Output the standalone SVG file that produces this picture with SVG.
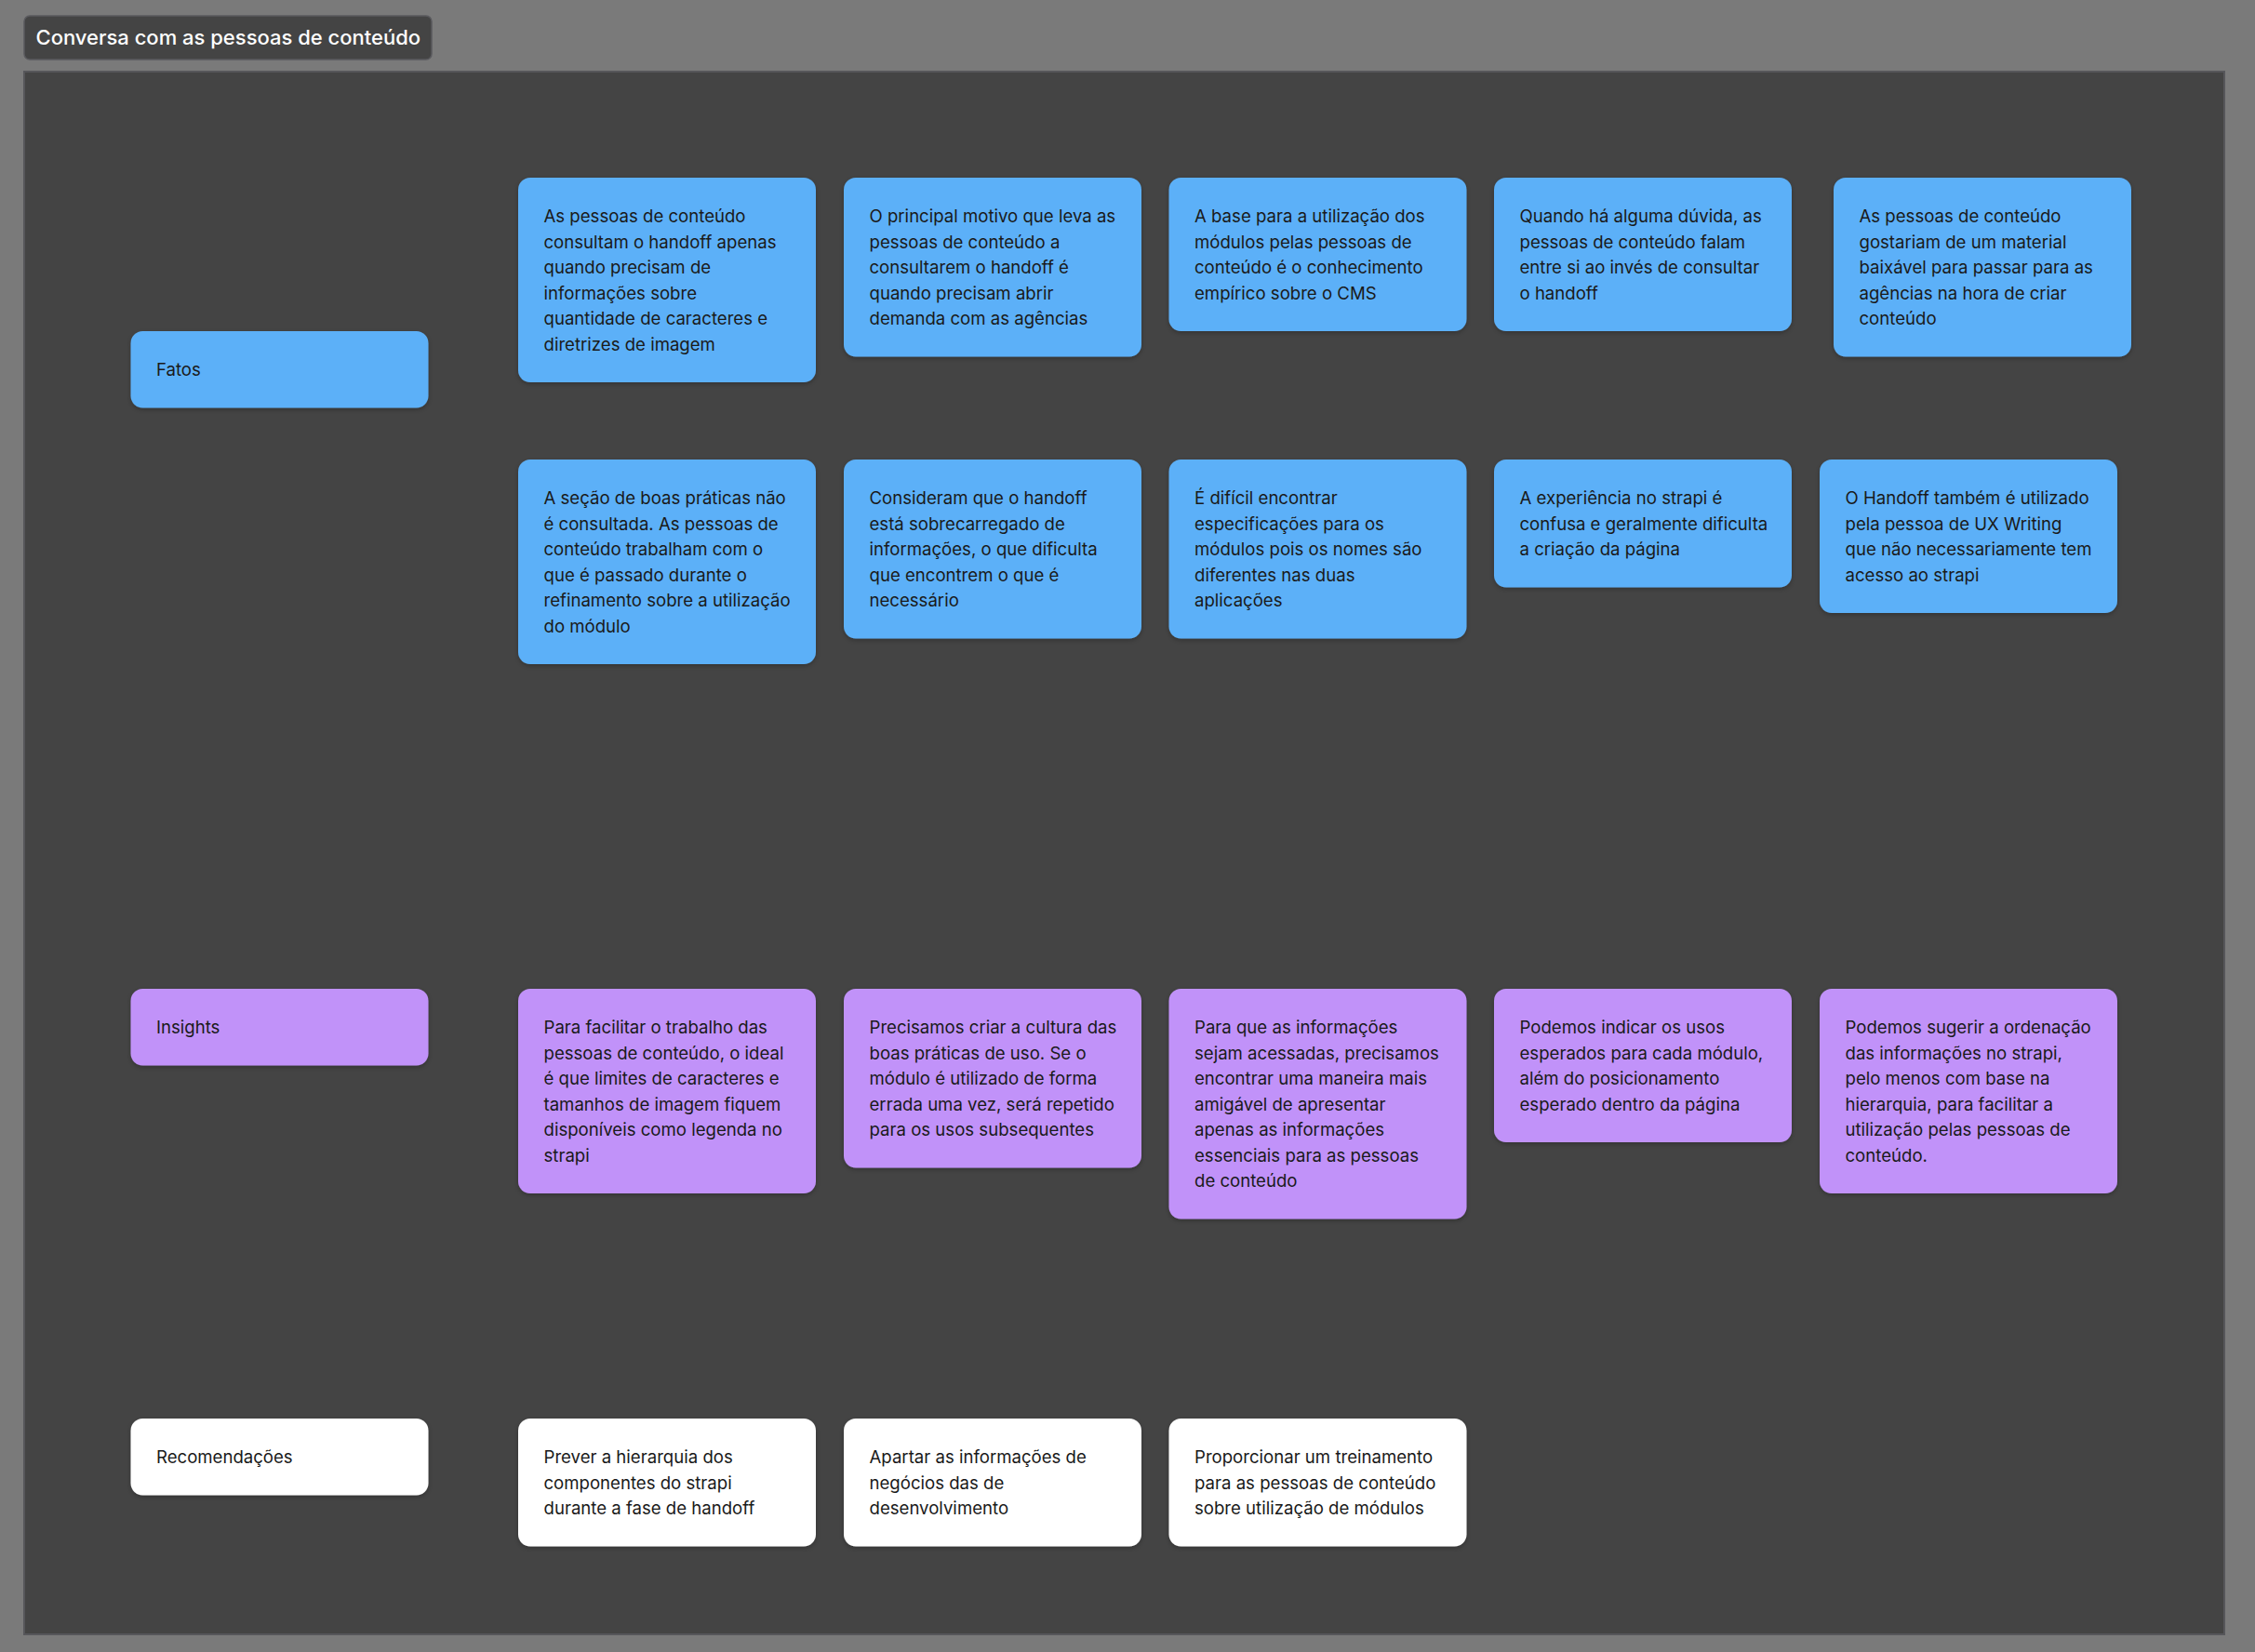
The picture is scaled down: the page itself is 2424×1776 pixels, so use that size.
<svg xmlns="http://www.w3.org/2000/svg" width="2424" height="1776" viewBox="0 0 2424 1776">
<style>
.bg{fill:#7a7a7a}
.frame{fill:#444444;stroke:#56565a;stroke-width:2}
.ttl{fill:#444444;stroke:#5a5a5e;stroke-width:1.5}
.ttlt{font-family:Inter,"Liberation Sans",sans-serif;font-size:22px;font-weight:500;fill:#ffffff}
.b{fill:#5cb0f8}
.p{fill:#c192f9}
.w{fill:#ffffff}
.card{filter:url(#sh)}
.t{font-family:Inter,"Liberation Sans",sans-serif;font-size:18.6px;fill:#1a1a1a}
</style>
<defs>
<filter id="sh" x="-10%" y="-10%" width="120%" height="130%">
<feDropShadow dx="0" dy="2" stdDeviation="2.5" flood-color="#000" flood-opacity="0.25"/>
</filter>
</defs>
<rect class="bg" x="0" y="0" width="2424" height="1776"/>
<rect class="frame" x="26" y="77" width="2365" height="1680"/>
<g id="title">
<rect class="ttl" x="26" y="17" width="438" height="47" rx="6"/>
<text class="ttlt" x="38.5" y="48">Conversa com as pessoas de conteúdo</text>
</g>
<g id="connectors"></g>

<g id="label-fatos" transform="translate(140.5,356)"><rect class="card b" width="320" height="82.5" rx="13"/><text class="t" x="27.5" y="48">Fatos</text></g>
<g id="label-insights" transform="translate(140.5,1063)"><rect class="card p" width="320" height="82.5" rx="13"/><text class="t" x="27.5" y="48">Insights</text></g>
<g id="label-recomendacoes" transform="translate(140.5,1525)"><rect class="card w" width="320" height="82.5" rx="13"/><text class="t" x="27.5" y="48">Recomendações</text></g>

<g id="fato-1" transform="translate(557,191)"><rect class="card b" width="320" height="220" rx="13"/><text class="t" x="27.5" y="48"><tspan x="27.5">As pessoas de conteúdo</tspan><tspan x="27.5" dy="27.5">consultam o handoff apenas</tspan><tspan x="27.5" dy="27.5">quando precisam de</tspan><tspan x="27.5" dy="27.5">informações sobre</tspan><tspan x="27.5" dy="27.5">quantidade de caracteres e</tspan><tspan x="27.5" dy="27.5">diretrizes de imagem</tspan></text></g>
<g id="fato-2" transform="translate(907,191)"><rect class="card b" width="320" height="192.5" rx="13"/><text class="t" x="27.5" y="48"><tspan x="27.5">O principal motivo que leva as</tspan><tspan x="27.5" dy="27.5">pessoas de conteúdo a</tspan><tspan x="27.5" dy="27.5">consultarem o handoff é</tspan><tspan x="27.5" dy="27.5">quando precisam abrir</tspan><tspan x="27.5" dy="27.5">demanda com as agências</tspan></text></g>
<g id="fato-3" transform="translate(1256.5,191)"><rect class="card b" width="320" height="165" rx="13"/><text class="t" x="27.5" y="48"><tspan x="27.5">A base para a utilização dos</tspan><tspan x="27.5" dy="27.5">módulos pelas pessoas de</tspan><tspan x="27.5" dy="27.5">conteúdo é o conhecimento</tspan><tspan x="27.5" dy="27.5">empírico sobre o CMS</tspan></text></g>
<g id="fato-4" transform="translate(1606,191)"><rect class="card b" width="320" height="165" rx="13"/><text class="t" x="27.5" y="48"><tspan x="27.5">Quando há alguma dúvida, as</tspan><tspan x="27.5" dy="27.5">pessoas de conteúdo falam</tspan><tspan x="27.5" dy="27.5">entre si ao invés de consultar</tspan><tspan x="27.5" dy="27.5">o handoff</tspan></text></g>
<g id="fato-5" transform="translate(1971,191)"><rect class="card b" width="320" height="192.5" rx="13"/><text class="t" x="27.5" y="48"><tspan x="27.5">As pessoas de conteúdo</tspan><tspan x="27.5" dy="27.5">gostariam de um material</tspan><tspan x="27.5" dy="27.5">baixável para passar para as</tspan><tspan x="27.5" dy="27.5">agências na hora de criar</tspan><tspan x="27.5" dy="27.5">conteúdo</tspan></text></g>

<g id="fato-6" transform="translate(557,494)"><rect class="card b" width="320" height="220" rx="13"/><text class="t" x="27.5" y="48"><tspan x="27.5">A seção de boas práticas não</tspan><tspan x="27.5" dy="27.5">é consultada. As pessoas de</tspan><tspan x="27.5" dy="27.5">conteúdo trabalham com o</tspan><tspan x="27.5" dy="27.5">que é passado durante o</tspan><tspan x="27.5" dy="27.5">refinamento sobre a utilização</tspan><tspan x="27.5" dy="27.5">do módulo</tspan></text></g>
<g id="fato-7" transform="translate(907,494)"><rect class="card b" width="320" height="192.5" rx="13"/><text class="t" x="27.5" y="48"><tspan x="27.5">Consideram que o handoff</tspan><tspan x="27.5" dy="27.5">está sobrecarregado de</tspan><tspan x="27.5" dy="27.5">informações, o que dificulta</tspan><tspan x="27.5" dy="27.5">que encontrem o que é</tspan><tspan x="27.5" dy="27.5">necessário</tspan></text></g>
<g id="fato-8" transform="translate(1256.5,494)"><rect class="card b" width="320" height="192.5" rx="13"/><text class="t" x="27.5" y="48"><tspan x="27.5">É difícil encontrar</tspan><tspan x="27.5" dy="27.5">especificações para os</tspan><tspan x="27.5" dy="27.5">módulos pois os nomes são</tspan><tspan x="27.5" dy="27.5">diferentes nas duas</tspan><tspan x="27.5" dy="27.5">aplicações</tspan></text></g>
<g id="fato-9" transform="translate(1606,494)"><rect class="card b" width="320" height="137.5" rx="13"/><text class="t" x="27.5" y="48"><tspan x="27.5">A experiência no strapi é</tspan><tspan x="27.5" dy="27.5">confusa e geralmente dificulta</tspan><tspan x="27.5" dy="27.5">a criação da página</tspan></text></g>
<g id="fato-10" transform="translate(1956,494)"><rect class="card b" width="320" height="165" rx="13"/><text class="t" x="27.5" y="48"><tspan x="27.5">O Handoff também é utilizado</tspan><tspan x="27.5" dy="27.5">pela pessoa de UX Writing</tspan><tspan x="27.5" dy="27.5">que não necessariamente tem</tspan><tspan x="27.5" dy="27.5">acesso ao strapi</tspan></text></g>

<g id="insight-1" transform="translate(557,1063)"><rect class="card p" width="320" height="220" rx="13"/><text class="t" x="27.5" y="48"><tspan x="27.5">Para facilitar o trabalho das</tspan><tspan x="27.5" dy="27.5">pessoas de conteúdo, o ideal</tspan><tspan x="27.5" dy="27.5">é que limites de caracteres e</tspan><tspan x="27.5" dy="27.5">tamanhos de imagem fiquem</tspan><tspan x="27.5" dy="27.5">disponíveis como legenda no</tspan><tspan x="27.5" dy="27.5">strapi</tspan></text></g>
<g id="insight-2" transform="translate(907,1063)"><rect class="card p" width="320" height="192.5" rx="13"/><text class="t" x="27.5" y="48"><tspan x="27.5">Precisamos criar a cultura das</tspan><tspan x="27.5" dy="27.5">boas práticas de uso. Se o</tspan><tspan x="27.5" dy="27.5">módulo é utilizado de forma</tspan><tspan x="27.5" dy="27.5">errada uma vez, será repetido</tspan><tspan x="27.5" dy="27.5">para os usos subsequentes</tspan></text></g>
<g id="insight-3" transform="translate(1256.5,1063)"><rect class="card p" width="320" height="247.5" rx="13"/><text class="t" x="27.5" y="48"><tspan x="27.5">Para que as informações</tspan><tspan x="27.5" dy="27.5">sejam acessadas, precisamos</tspan><tspan x="27.5" dy="27.5">encontrar uma maneira mais</tspan><tspan x="27.5" dy="27.5">amigável de apresentar</tspan><tspan x="27.5" dy="27.5">apenas as informações</tspan><tspan x="27.5" dy="27.5">essenciais para as pessoas</tspan><tspan x="27.5" dy="27.5">de conteúdo</tspan></text></g>
<g id="insight-4" transform="translate(1606,1063)"><rect class="card p" width="320" height="165" rx="13"/><text class="t" x="27.5" y="48"><tspan x="27.5">Podemos indicar os usos</tspan><tspan x="27.5" dy="27.5">esperados para cada módulo,</tspan><tspan x="27.5" dy="27.5">além do posicionamento</tspan><tspan x="27.5" dy="27.5">esperado dentro da página</tspan></text></g>
<g id="insight-5" transform="translate(1956,1063)"><rect class="card p" width="320" height="220" rx="13"/><text class="t" x="27.5" y="48"><tspan x="27.5">Podemos sugerir a ordenação</tspan><tspan x="27.5" dy="27.5">das informações no strapi,</tspan><tspan x="27.5" dy="27.5">pelo menos com base na</tspan><tspan x="27.5" dy="27.5">hierarquia, para facilitar a</tspan><tspan x="27.5" dy="27.5">utilização pelas pessoas de</tspan><tspan x="27.5" dy="27.5">conteúdo.</tspan></text></g>

<g id="recomendacao-1" transform="translate(557,1525)"><rect class="card w" width="320" height="137.5" rx="13"/><text class="t" x="27.5" y="48"><tspan x="27.5">Prever a hierarquia dos</tspan><tspan x="27.5" dy="27.5">componentes do strapi</tspan><tspan x="27.5" dy="27.5">durante a fase de handoff</tspan></text></g>
<g id="recomendacao-2" transform="translate(907,1525)"><rect class="card w" width="320" height="137.5" rx="13"/><text class="t" x="27.5" y="48"><tspan x="27.5">Apartar as informações de</tspan><tspan x="27.5" dy="27.5">negócios das de</tspan><tspan x="27.5" dy="27.5">desenvolvimento</tspan></text></g>
<g id="recomendacao-3" transform="translate(1256.5,1525)"><rect class="card w" width="320" height="137.5" rx="13"/><text class="t" x="27.5" y="48"><tspan x="27.5">Proporcionar um treinamento</tspan><tspan x="27.5" dy="27.5">para as pessoas de conteúdo</tspan><tspan x="27.5" dy="27.5">sobre utilização de módulos</tspan></text></g>
</svg>
